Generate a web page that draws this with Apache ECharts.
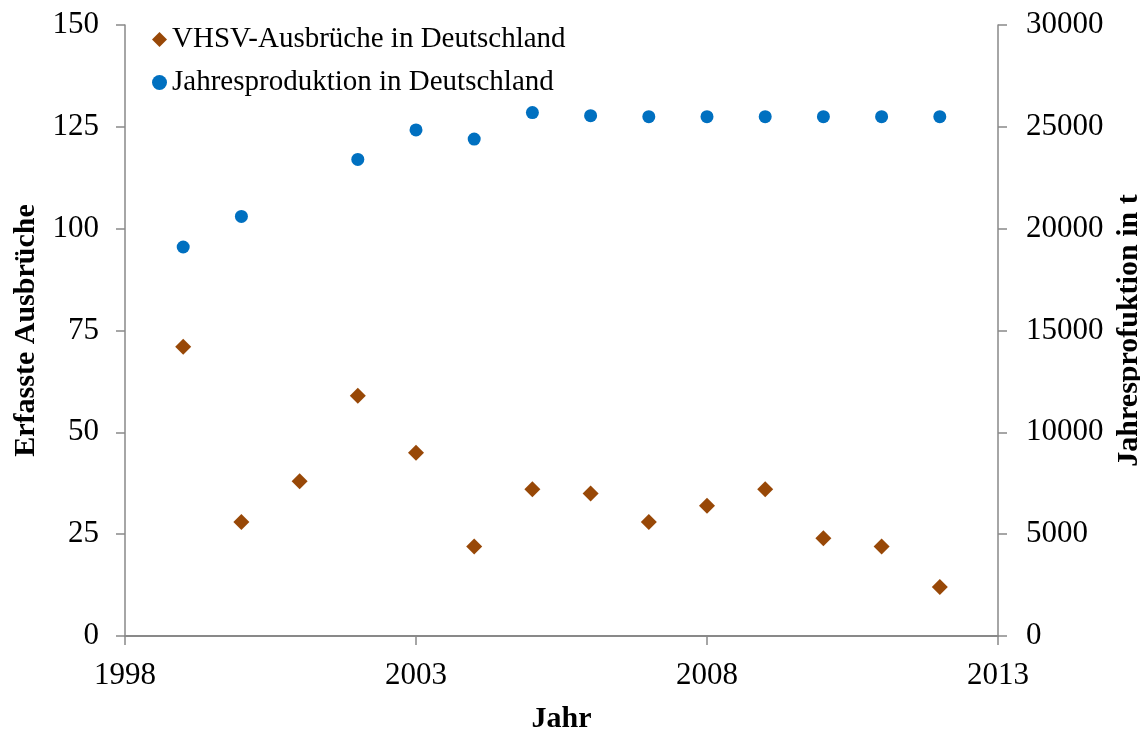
<!DOCTYPE html>
<html>
<head>
<meta charset="utf-8">
<script src="https://cdn.jsdelivr.net/npm/echarts@6/dist/echarts.min.js"></script>
<style>
  html, body { margin: 0; padding: 0; background: #fff; }
  #chart { width: 1140px; height: 731px; }
</style>
</head>
<body>
<div id="chart"></div>
<script>
const years = [1999, 2000, 2001, 2002, 2003, 2004, 2005, 2006, 2007, 2008, 2009, 2010, 2011, 2012]
const ausbrueche = [71, 28, 38, 59, 45, 22, 36, 35, 28, 32, 36, 24, 22, 12]
const prodYears = [1999, 2000, 2002, 2003, 2004, 2005, 2006, 2007, 2008, 2009, 2010, 2011, 2012]
const produktion = [19100, 20600, 23400, 24850, 24400, 25700, 25550, 25500, 25500, 25500, 25500, 25500, 25500]
const xTicks = [1998, 2003, 2008, 2013]
const leftTicks = [0, 25, 50, 75, 100, 125, 150]
const rightTicks = [0, 5000, 10000, 15000, 20000, 25000, 30000]

const font = 'Liberation Serif, Times New Roman, serif'
const axisGrey = '#898989'

const chart = echarts.init(document.getElementById('chart'))

const option = {
  backgroundColor: '#fff',
  animation: false,
  textStyle: { fontFamily: font },
  grid: { left: 125, right: 142, top: 25, bottom: 95, outerBoundsMode: 'none', containLabel: false },
  legend: {
    orient: 'vertical',
    left: 147,
    top: 20,
    itemGap: 14,
    itemWidth: 15,
    itemHeight: 15,
    textStyle: { fontFamily: font, fontSize: 29, color: '#000' },
    data: [
      { name: 'VHSV-Ausbrüche in Deutschland', icon: 'diamond' },
      { name: 'Jahresproduktion in Deutschland', icon: 'circle' }
    ]
  },
  xAxis: {
    type: 'value',
    min: xTicks[0],
    max: xTicks[xTicks.length - 1],
    interval: 5,
    name: 'Jahr',
    nameLocation: 'middle',
    nameGap: 68,
    nameTextStyle: { fontFamily: font, fontSize: 30, fontWeight: 'bold', color: '#000' },
    axisLine: { show: true, lineStyle: { color: axisGrey, width: 2 } },
    axisTick: { show: true, inside: false, length: 9, lineStyle: { color: axisGrey, width: 1.5 } },
    axisLabel: { fontFamily: font, fontSize: 31, color: '#000', margin: 24, formatter: v => String(v) },
    splitLine: { show: false }
  },
  yAxis: [
    {
      type: 'value',
      position: 'left',
      min: leftTicks[0],
      max: leftTicks[leftTicks.length - 1],
      interval: 25,
      name: 'Erfasste Ausbrüche',
      nameLocation: 'middle',
      nameRotate: 90,
      nameGap: 72,
      nameTextStyle: { fontFamily: font, fontSize: 30, fontWeight: 'bold', color: '#000' },
      axisLine: { show: true, lineStyle: { color: axisGrey, width: 1.5 } },
      axisTick: { show: true, inside: false, length: 9, lineStyle: { color: axisGrey, width: 1.5 } },
      axisLabel: { fontFamily: font, fontSize: 31, color: '#000', margin: 26, formatter: v => String(v) },
      splitLine: { show: false }
    },
    {
      type: 'value',
      position: 'right',
      min: rightTicks[0],
      max: rightTicks[rightTicks.length - 1],
      interval: 5000,
      name: 'Jahresprofuktion in t',
      nameLocation: 'middle',
      nameRotate: 90,
      nameGap: 110,
      nameTextStyle: { fontFamily: font, fontSize: 30, fontWeight: 'bold', color: '#000' },
      axisLine: { show: true, lineStyle: { color: axisGrey, width: 1.5 } },
      axisTick: { show: true, inside: false, length: 9, lineStyle: { color: axisGrey, width: 1.5 } },
      axisLabel: { fontFamily: font, fontSize: 31, color: '#000', margin: 28, formatter: v => String(v) },
      splitLine: { show: false }
    }
  ],
  series: [
    {
      name: 'VHSV-Ausbrüche in Deutschland',
      type: 'scatter',
      yAxisIndex: 0,
      symbol: 'diamond',
      symbolSize: 16,
      itemStyle: { color: '#984807', opacity: 1 },
      data: years.map((y, i) => [y, ausbrueche[i]])
    },
    {
      name: 'Jahresproduktion in Deutschland',
      type: 'scatter',
      yAxisIndex: 1,
      symbol: 'circle',
      symbolSize: 13,
      itemStyle: { color: '#0070C0', opacity: 1 },
      data: prodYears.map((y, i) => [y, produktion[i]])
    }
  ]
}

chart.setOption(option)
</script>
</body>
</html>
